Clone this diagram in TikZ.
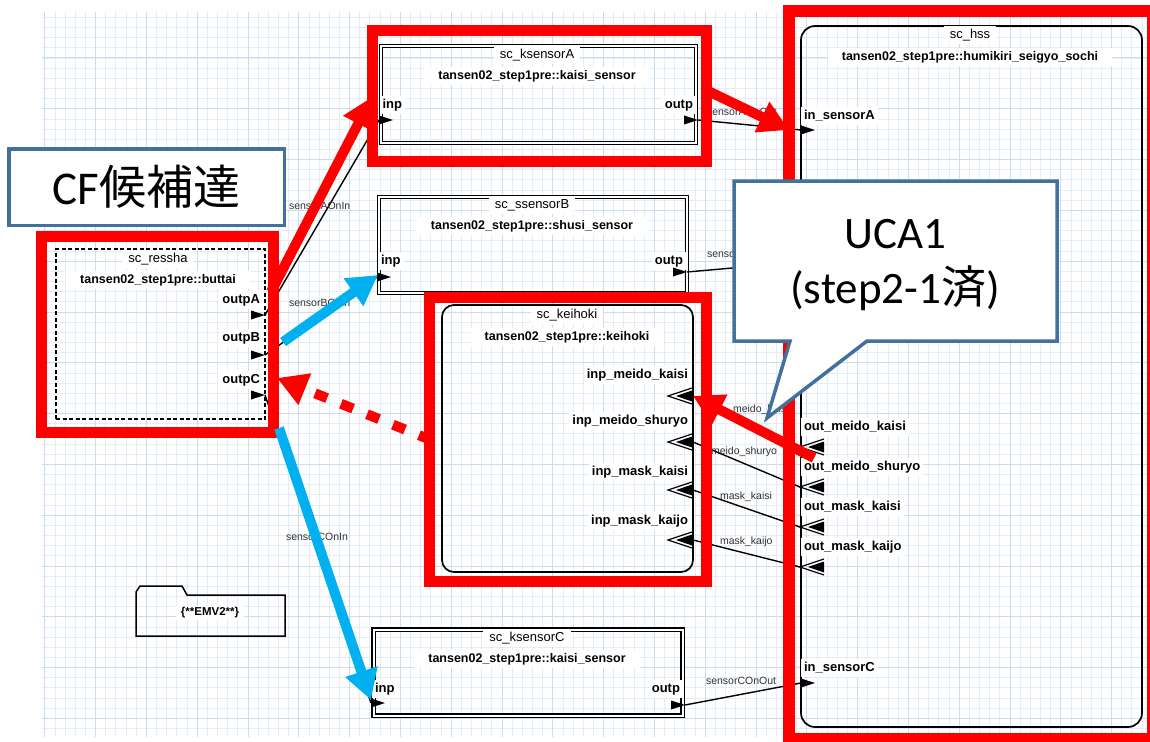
\documentclass[tikz,border=0pt]{standalone}
\usepackage{fontspec}
\setmainfont{Liberation Sans}
\newfontfamily\calib{Carlito}
\newfontfamily\cjk{Noto Sans CJK JP}
\usetikzlibrary{arrows.meta}

\definecolor{gminor}{RGB}{228,237,247}
\definecolor{gmajor}{RGB}{204,220,240}
\definecolor{hlred}{RGB}{255,0,0}
\definecolor{hlblue}{RGB}{0,176,240}
\definecolor{callblue}{RGB}{65,113,156}
\definecolor{lblgray}{RGB}{50,50,50}

\tikzset{
  every node/.style={inner sep=0pt, outer sep=0pt},
  dblbox/.style={draw=black, line width=1.3pt, double=white, double distance=2pt},
  procbox/.style={draw=black, line width=1.7pt, rounded corners=12pt},
  dashbox/.style={draw=black, line width=1.5pt, dash pattern=on 4pt off 2.5pt},
  titlelbl/.style={fill=white, inner xsep=6pt, inner ysep=2.5pt, text height=9.5pt, text depth=3pt,
    font=\fontsize{13}{15}\selectfont},
  classlbl/.style={fill=white, inner xsep=14pt, inner ysep=3pt, text height=9.5pt, text depth=3pt,
    font=\fontsize{12.5}{14}\selectfont\bfseries},
  portlbl/.style={fill=white, inner xsep=3pt, inner ysep=2.5pt, text height=9.5pt, text depth=3pt,
    font=\fontsize{13}{15}\selectfont\bfseries},
  connlbl/.style={text=lblgray, anchor=west, font=\fontsize{10.5}{12}\selectfont},
  conn/.style={draw=black, line width=1.4pt},
  hlbox/.style={draw=hlred, line width=11pt},
  hlarrow/.style={draw=hlred, line width=10pt, -{Triangle[length=30pt,width=32pt]}},
  hldash/.style={hlarrow, dash pattern=on 13pt off 15pt},
  bluearrow/.style={draw=hlblue, line width=10pt, -{Triangle[length=30pt,width=32pt]}},
  callout/.style={draw=callblue, line width=3.5pt, fill=white, line join=miter},
  dport/.pic={\fill[black] (0,-4.5) -- (14,0) -- (0,4.5) -- cycle;},
  evport/.pic={
    \draw[black, line width=1.2pt, line join=miter] (24,-8) -- (0,0) -- (24,8);
    \fill[black] (8,0) -- (24,-5.5) -- (24,5.5) -- cycle;},
}

\begin{document}
\begin{tikzpicture}[x=1pt,y=-1pt]
\useasboundingbox (0,0) rectangle (1150,741);
\clip (0,0) rectangle (1150,741);
\fill[white] (0,0) rectangle (1150,741);

% drawing grid
\begin{scope}
  \clip (42,12) rectangle (1150,737);
  \foreach \i in {0,...,109}
    \draw[gminor, line width=0.9pt] ({44.8+10.16*\i},12) -- ({44.8+10.16*\i},737);
  \foreach \j in {0,...,72}
    \draw[gminor, line width=0.9pt] (42,{7.2+10.16*\j}) -- (1150,{7.2+10.16*\j});
  \foreach \i in {0,...,21}
    \draw[gmajor, line width=1pt] ({44.8+50.8*\i},12) -- ({44.8+50.8*\i},737);
  \foreach \j in {0,...,14}
    \draw[gmajor, line width=1pt] (42,{7.2+50.8*\j}) -- (1150,{7.2+50.8*\j});
\end{scope}

% ---------- subcomponents ----------
\node[dblbox, minimum width=315, minimum height=97] (ksA) at (538.5,94.5) {};
\node[titlelbl] (ksAt) at (537,55) {sc\_ksensorA};
\node[classlbl] (ksAc) at (537,76) {tansen02\_step1pre::kaisi\_sensor};
\node[portlbl, anchor=west] (ksAinl) at (379.5,105) {inp};
\node[portlbl, anchor=east] (ksAoutl) at (696,105) {outp};

\node[dblbox, minimum width=308, minimum height=96] (ssB) at (533,245) {};
\node[titlelbl] (ssBt) at (532,205) {sc\_ssensorB};
\node[classlbl] (ssBc) at (532,226) {tansen02\_step1pre::shusi\_sensor};
\node[portlbl, anchor=west] (ssBinl) at (378,261) {inp};
\node[portlbl, anchor=east] (ssBoutl) at (686,261) {outp};

\node[dblbox, minimum width=309, minimum height=86] (ksC) at (528,672.5) {};
\node[titlelbl] (ksCt) at (527,638) {sc\_ksensorC};
\node[classlbl] (ksCc) at (527,659) {tansen02\_step1pre::kaisi\_sensor};
\node[portlbl, anchor=west] (ksCinl) at (372,689) {inp};
\node[portlbl, anchor=east] (ksCoutl) at (683,689) {outp};

\node[dashbox, minimum width=209, minimum height=170] (ressha) at (160.5,334) {};
\node[titlelbl] (resst) at (158,259) {sc\_ressha};
\node[classlbl] (ressc) at (158,280) {tansen02\_step1pre::buttai};
\node[portlbl, anchor=east] (resAl) at (263,300) {outpA};
\node[portlbl, anchor=east] (resBl) at (263,338) {outpB};
\node[portlbl, anchor=east] (resCl) at (263,380) {outpC};

\node[procbox, minimum width=251, minimum height=267] (kei) at (567.5,438.5) {};
\node[titlelbl] (keit) at (567,315) {sc\_keihoki};
\node[classlbl] (keic) at (567,337) {tansen02\_step1pre::keihoki};
\node[portlbl, anchor=east] (keiMKl) at (691,375) {inp\_meido\_kaisi};
\node[portlbl, anchor=east] (keiMSl) at (691,421) {inp\_meido\_shuryo};
\node[portlbl, anchor=east] (keiKKl) at (691,472) {inp\_mask\_kaisi};
\node[portlbl, anchor=east] (keiKJl) at (691,521) {inp\_mask\_kaijo};

\node[procbox, rounded corners=14pt, minimum width=341, minimum height=701] (hss) at (971.5,376.5) {};
\node[titlelbl] (hsst) at (970,35) {sc\_hss};
\node[classlbl] (hssc) at (970,57) {tansen02\_step1pre::humikiri\_seigyo\_sochi};
\node[portlbl, anchor=west] (hssAl) at (801,116) {in\_sensorA};
\node[portlbl, anchor=west] (hssMKl) at (801,427) {out\_meido\_kaisi};
\node[portlbl, anchor=west] (hssMSl) at (801,467) {out\_meido\_shuryo};
\node[portlbl, anchor=west] (hssKKl) at (801,507) {out\_mask\_kaisi};
\node[portlbl, anchor=west] (hssKJl) at (801,547) {out\_mask\_kaijo};
\node[portlbl, anchor=west] (hssCl) at (801,668) {in\_sensorC};

% annex folder
\draw[black, line width=1.5pt, line join=miter]
  (136,636) -- (136,592) -- (140,586) -- (182,586) -- (187,595) -- (285,595) -- (285,636) -- cycle;
\node[fill=white, inner xsep=5pt, inner ysep=2pt, font=\fontsize{11.5}{13}\selectfont\bfseries] (emv) at (210,613) {\{**EMV2**\}};

% ---------- port positions ----------
\coordinate (resA) at (265,315);
\coordinate (resB) at (265,355);
\coordinate (resC) at (265,395);
\coordinate (ksAin) at (379,120);
\coordinate (ksAout) at (698,120);
\coordinate (ssBin) at (377,277);
\coordinate (ssBout) at (687,272);
\coordinate (ksCin) at (371,703);
\coordinate (ksCout) at (685,705);
\coordinate (hssA) at (801,130);
\coordinate (hssB) at (801,262);
\coordinate (hssC) at (801,683);
\coordinate (keiMK) at (693,396);
\coordinate (keiMS) at (693,442);
\coordinate (keiKK) at (693,490);
\coordinate (keiKJ) at (693,540);
\coordinate (hssMK) at (800,447);
\coordinate (hssMS) at (800,487);
\coordinate (hssKK) at (800,527);
\coordinate (hssKJ) at (800,567);

% ---------- connections ----------
\draw[conn] (resA) -- (ksAin);
\draw[conn] (resB) -- (ssBin);
\draw[conn] (resC) -- (ksCin);
\draw[conn] (ksAout) -- (hssA);
\draw[conn] (ssBout) -- (hssB);
\draw[conn] (ksCout) -- (hssC);
\draw[conn] (hssMK) -- (keiMK);
\draw[conn] (hssMS) -- (keiMS);
\draw[conn] (hssKK) -- (keiKK);
\draw[conn] (hssKJ) -- (keiKJ);

\node[connlbl] (lAin) at (289,206) {sensorAOnIn};
\node[connlbl] (lBin) at (289,303) {sensorBOnIn};
\node[connlbl] (lCin) at (286,537) {sensorCOnIn};
\node[connlbl] (lAout) at (707,112) {sensorAOnOut};
\node[connlbl] (lBout) at (707,254) {sensorBOnOut};
\node[connlbl] (lCout) at (706,681) {sensorCOnOut};
\node[connlbl] (lMK) at (733,410) {meido\_kaisi};
\node[connlbl] (lMS) at (711,452) {meido\_shuryo};
\node[connlbl] (lKK) at (720,497) {mask\_kaisi};
\node[connlbl] (lKJ) at (720,542) {mask\_kaijo};

% ---------- port symbols ----------
\pic at (ksAin) {dport};
\pic at (684,120) {dport};
\pic at (ssBin) {dport};
\pic at (673,272) {dport};
\pic at (ksCin) {dport};
\pic at (671,705) {dport};
\pic at (251,315) {dport};
\pic at (251,355) {dport};
\pic at (251,395) {dport};
\pic at (hssA) {dport};
\pic at (hssC) {dport};
\pic at (668,396) {evport};
\pic at (668,442) {evport};
\pic at (668,490) {evport};
\pic at (668,540) {evport};
\pic at (hssMK) {evport};
\pic at (hssMS) {evport};
\pic at (hssKK) {evport};
\pic at (hssKJ) {evport};

% ---------- highlight frames ----------
\node[hlbox, minimum width=334, minimum height=131] (hlA) at (539.5,96) {};
\node[hlbox, minimum width=232, minimum height=196] (hlR) at (157.5,334.5) {};
\node[hlbox, minimum width=277, minimum height=284] (hlK) at (568,439.5) {};
\node[hlbox, line width=12.5pt, minimum width=364, minimum height=728] (hlH) at (971,375) {};

% ---------- highlight arrows ----------
\coordinate (raS) at (271,292);
\coordinate (raT) at (372,97);
\coordinate (roS) at (706,90);
\coordinate (roT) at (789,130);
\coordinate (rmS) at (814,458);
\coordinate (rmT) at (693,396);
\coordinate (rdS) at (431,440);
\coordinate (rdT) at (277,378);
\coordinate (bbS) at (283,342);
\coordinate (bbT) at (378,275);
\coordinate (bcS) at (279,428);
\coordinate (bcT) at (371,700);

\draw[hlarrow] (raS) -- (raT);
\draw[hlarrow] (roS) -- (roT);
\draw[hlarrow] (rmS) -- (rmT);
\draw[hldash] (rdS) -- (rdT);
\draw[bluearrow] (bbS) -- (bbT);
\draw[bluearrow] (bcS) -- (bcT);

% ---------- callouts ----------
\node[callout, minimum width=275.5, minimum height=76.5] (cf) at (146.5,187) {};
\node[anchor=base, font=\fontsize{47}{50}\selectfont] (cft) at (146.5,204) {{\calib CF}{\cjk 候補達}};

\filldraw[callout] (734,181) -- (1057,181) -- (1057,341) -- (867,341) -- (767,418)
  -- (790,341) -- (734,341) -- cycle;
\node[anchor=base, font=\fontsize{45}{48}\selectfont] (uca) at (895,248) {\calib UCA1};
\node[anchor=base, font=\fontsize{45}{48}\selectfont] (ucb) at (895,303) {{\calib (step2-1}{\cjk 済}{\calib )}};
\end{tikzpicture}
\end{document}
